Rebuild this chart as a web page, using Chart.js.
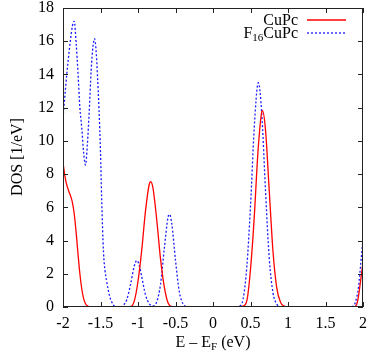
<!DOCTYPE html>
<html>
<head>
<meta charset="utf-8">
<script src="https://cdn.jsdelivr.net/npm/chart.js@4"></script>
<style>
  body { margin: 0; background: #fff; }
  #wrap { width: 374px; height: 353px; }
</style>
</head>
<body>
<div id="wrap"><canvas id="dosChart" width="374" height="353"></canvas></div>
<script>
// CuPc (red, solid)
const cupcE = [-2, -1.975, -1.95, -1.925, -1.9, -1.875, -1.85, -1.825, -1.8, -1.775, -1.75, -1.725, -1.7, -1.675, -1.65, -1.6,
    -1.2, -1.1, -1.05, -1.0, -0.95, -0.9, -0.85, -0.83, -0.8, -0.75, -0.7, -0.65, -0.6, -0.55, -0.5,
    0.35, 0.4, 0.45, 0.5, 0.55, 0.6, 0.65, 0.66, 0.7, 0.75, 0.8, 0.85, 0.9, 0.95, 1.0,
    1.85, 1.9, 1.93, 1.96, 2.0];
const cupcDos = [8.7, 7.9, 7.35, 7.0, 6.7, 6.3, 5.6, 4.5, 3.2, 2.0, 1.1, 0.5, 0.2, 0.07, 0.02, 0,
    0, 0.02, 0.35, 1.55, 3.44, 5.79, 7.39, 7.54, 7.15, 5.24, 2.91, 1.23, 0.25, 0.03, 0,
    0, 0.05, 0.35, 2.26, 5.41, 9.37, 11.74, 11.82, 10.66, 7.0, 3.34, 1.15, 0.29, 0.05, 0,
    0, 0.05, 0.4, 1.3, 2.7];

// F16CuPc (blue, dotted)
const f16E = [-2, -1.975, -1.95, -1.925, -1.9, -1.875, -1.85, -1.825, -1.8, -1.775, -1.75, -1.725, -1.7, -1.675, -1.65, -1.625,
    -1.6, -1.58, -1.56, -1.54, -1.52, -1.5, -1.485, -1.46, -1.44, -1.42, -1.4, -1.375, -1.35, -1.325, -1.3, -1.25,
    -1.2, -1.15, -1.1, -1.05, -1.015, -0.98, -0.95, -0.9, -0.85, -0.8, -0.75, -0.7, -0.65, -0.6, -0.58, -0.55,
    -0.5, -0.45, -0.4, -0.35, -0.3,
    0.3, 0.35, 0.4, 0.45, 0.5, 0.55, 0.6, 0.605, 0.65, 0.7, 0.75, 0.8, 0.85, 0.9, 0.95,
    1.8, 1.87, 1.9, 1.94, 1.97, 2.0];
const f16Dos = [11.4, 12.7, 14.0, 15.1, 16.1, 16.9, 17.2, 15.9, 14.1, 12.0, 10.8, 9.3, 8.55, 9.8, 11.8, 14.2,
    15.7, 16.15, 15.5, 13.9, 11.9, 9.3, 6.6, 3.3, 2.2, 1.6, 1.1, 0.6, 0.3, 0.1, 0.02, 0,
    0.08, 0.44, 1.34, 2.47, 2.8, 2.45, 1.82, 0.73, 0.2, 0.07, 0.31, 1.35, 3.48, 5.4, 5.58, 5.03,
    2.81, 0.94, 0.19, 0.02, 0,
    0, 0.05, 0.45, 2.37, 6.07, 10.8, 13.48, 13.5, 11.65, 7.01, 2.93, 0.85, 0.17, 0.02, 0,
    0, 0.05, 0.3, 1.2, 2.6, 4.1];

const xTicks = [-2, -1.5, -1, -0.5, 0, 0.5, 1, 1.5, 2];
const yTicks = [0, 2, 4, 6, 8, 10, 12, 14, 16, 18];

const SERIF = '"Liberation Serif", "DejaVu Serif", serif';
const RED = '#ff0000';
const BLUE = '#1a1aff';

const toPoints = (xs, ys) => xs.map((x, i) => ({ x: x, y: ys[i] }));

// frame, inward ticks, titles and legend, gnuplot style
const gnuplotBits = {
    id: 'gnuplotBits',
    afterDraw(chart) {
        const ctx = chart.ctx;
        const a = chart.chartArea;
        const xs = chart.scales.x, ys = chart.scales.y;
        ctx.save();
        ctx.strokeStyle = '#222';
        ctx.lineWidth = 1;
        ctx.strokeRect(a.left + 0.5, a.top + 0.5, a.right - a.left - 1, a.bottom - a.top - 1);
        ctx.beginPath();
        xTicks.forEach(v => {
            const px = Math.round(xs.getPixelForValue(v)) + 0.5;
            ctx.moveTo(px, a.bottom); ctx.lineTo(px, a.bottom - 5);
            ctx.moveTo(px, a.top); ctx.lineTo(px, a.top + 5);
        });
        yTicks.forEach(v => {
            const py = Math.round(ys.getPixelForValue(v)) + 0.5;
            ctx.moveTo(a.left, py); ctx.lineTo(a.left + 5, py);
            ctx.moveTo(a.right, py); ctx.lineTo(a.right - 5, py);
        });
        ctx.stroke();

        ctx.fillStyle = '#000';
        ctx.textBaseline = 'alphabetic';

        // x title: E – E_F (eV)
        const big = '16px ' + SERIF, small = '11px ' + SERIF;
        ctx.font = big;
        const p1 = 'E \u2013 E', p3 = ' (eV)';
        const w1 = ctx.measureText(p1).width, w3 = ctx.measureText(p3).width;
        ctx.font = small;
        const w2 = ctx.measureText('F').width;
        let tx = (a.left + a.right) / 2 - (w1 + w2 + w3) / 2;
        const ty = 347;
        ctx.font = big; ctx.textAlign = 'left';
        ctx.fillText(p1, tx, ty);
        ctx.font = small; ctx.fillText('F', tx + w1, ty + 3);
        ctx.font = big; ctx.fillText(p3, tx + w1 + w2, ty);

        // y title
        ctx.save();
        ctx.translate(22, 157);
        ctx.rotate(-Math.PI / 2);
        ctx.textAlign = 'center';
        ctx.font = big;
        ctx.fillText('DOS [1/eV]', 0, 0);
        ctx.restore();

        // legend
        const lx = 298;
        ctx.textAlign = 'right';
        ctx.font = big;
        ctx.fillText('CuPc', lx, 25);
        const cu = ctx.measureText('CuPc').width;
        ctx.fillText('CuPc', lx, 38);
        ctx.font = small;
        ctx.fillText('16', lx - cu, 41);
        const w16 = ctx.measureText('16').width;
        ctx.font = big;
        ctx.fillText('F', lx - cu - w16, 38);

        ctx.lineWidth = 1.3;
        ctx.strokeStyle = RED;
        ctx.beginPath(); ctx.moveTo(307, 20); ctx.lineTo(346, 20); ctx.stroke();
        ctx.strokeStyle = BLUE;
        ctx.setLineDash([2, 2]);
        ctx.beginPath(); ctx.moveTo(307, 33); ctx.lineTo(346, 33); ctx.stroke();
        ctx.restore();
    }
};

const chart = new Chart(document.getElementById('dosChart').getContext('2d'), {
    type: 'line',
    data: {
        datasets: [{
            label: 'CuPc',
            data: toPoints(cupcE, cupcDos),
            borderColor: RED,
            borderWidth: 1.3,
            pointRadius: 0,
            cubicInterpolationMode: 'monotone',
            fill: false
        }, {
            label: 'F16CuPc',
            data: toPoints(f16E, f16Dos),
            borderColor: BLUE,
            borderWidth: 1.3,
            borderDash: [2, 2],
            pointRadius: 0,
            cubicInterpolationMode: 'monotone',
            fill: false
        }]
    },
    options: {
        responsive: false,
        animation: false,
        events: [],
        layout: { padding: { top: 8, right: 11, left: 0, bottom: 0 } },
        plugins: { legend: { display: false }, tooltip: { enabled: false } },
        scales: {
            x: {
                type: 'linear',
                min: -2, max: 2,
                afterBuildTicks: s => { s.ticks = xTicks.map(v => ({ value: v })); },
                afterFit: s => { s.height = 46; s.paddingLeft = 0; s.paddingRight = 0; },
                grid: { display: false, drawTicks: false },
                border: { display: false },
                ticks: {
                    color: '#000', padding: 7, maxRotation: 0,
                    font: { family: SERIF, size: 16 },
                    callback: v => String(v)
                }
            },
            y: {
                min: 0, max: 18,
                afterBuildTicks: s => { s.ticks = yTicks.map(v => ({ value: v })); },
                afterFit: s => { s.width = 63; s.paddingTop = 0; s.paddingBottom = 0; },
                grid: { display: false, drawTicks: false },
                border: { display: false },
                ticks: {
                    color: '#000', padding: 9,
                    font: { family: SERIF, size: 16 },
                    callback: v => String(v)
                }
            }
        }
    },
    plugins: [gnuplotBits]
});
</script>
</body>
</html>
